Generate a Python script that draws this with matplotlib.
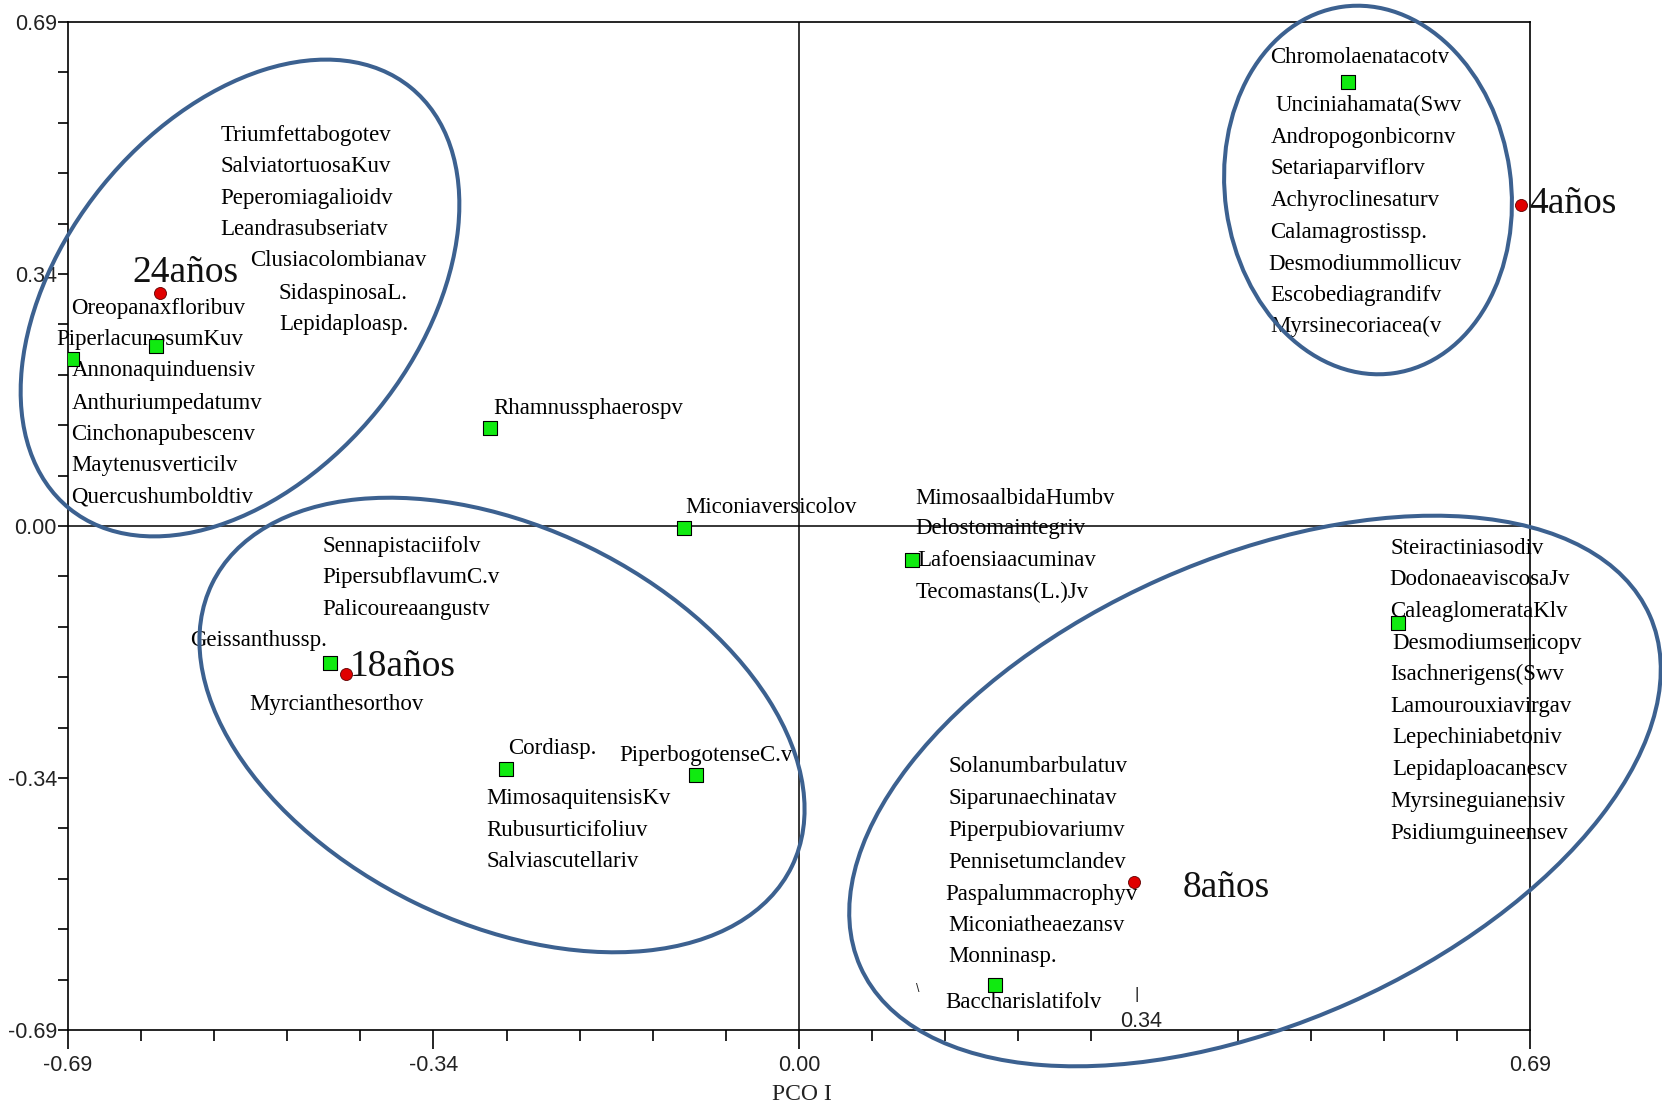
import numpy as np
import matplotlib.pyplot as plt
from matplotlib.patches import Ellipse
from matplotlib.transforms import offset_copy

# sampling plots (red dots) and their age labels
sample_names = ["24años", "18años", "8años", "4años"]
sample_x = [-0.603, -0.428, 0.316, 0.681]
sample_y = [0.319, -0.203, -0.487, 0.440]
sample_lab_x = [-0.629, -0.424, 0.362, 0.689]
sample_lab_y = [0.353, -0.187, -0.489, 0.447]

# species with a visible marker (green squares)
species_x = [0.518, -0.607, -0.686, -0.292, -0.109, 0.107,
             -0.443, -0.277, -0.097, 0.565, 0.185]
species_y = [0.608, 0.247, 0.228, 0.134, -0.003, -0.046,
             -0.187, -0.332, -0.341, -0.133, -0.628]

# species labels as printed on the chart
label_names = [
    "Triumfettabogotev", "SalviatortuosaKuv", "Peperomiagalioidv",
    "Leandrasubseriatv", "Clusiacolombianav", "SidaspinosaL.", "Lepidaploasp.",
    "Oreopanaxfloribuv", "PiperlacunosumKuv", "Annonaquinduensiv",
    "Anthuriumpedatumv", "Cinchonapubescenv", "Maytenusverticilv",
    "Quercushumboldtiv",
    "Rhamnussphaerospv", "Miconiaversicolov",
    "MimosaalbidaHumbv", "Delostomaintegriv", "Lafoensiaacuminav",
    "Tecomastans(L.)Jv",
    "Sennapistaciifolv", "PipersubflavumC.v", "Palicoureaangustv",
    "Geissanthussp.", "Myrcianthesorthov", "Cordiasp.", "PiperbogotenseC.v",
    "MimosaquitensisKv", "Rubusurticifoliuv", "Salviascutellariv",
    "Solanumbarbulatuv", "Siparunaechinatav", "Piperpubiovariumv",
    "Pennisetumclandev", "Paspalummacrophyv", "Miconiatheaezansv",
    "Monninasp.", "Baccharislatifolv",
    "Steiractiniasodiv", "DodonaeaviscosaJv", "CaleaglomerataKlv",
    "Desmodiumsericopv", "Isachnerigens(Swv", "Lamourouxiavirgav",
    "Lepechiniabetoniv", "Lepidaploacanescv", "Myrsineguianensiv",
    "Psidiumguineensev",
    "Chromolaenatacotv", "Unciniahamata(Swv", "Andropogonbicornv",
    "Setariaparviflorv", "Achyroclinesaturv", "Calamagrostissp.",
    "Desmodiummollicuv", "Escobediagrandifv", "Myrsinecoriacea(v",
]
label_x = [
    -0.546, -0.546, -0.546, -0.546, -0.518, -0.491, -0.491,
    -0.687, -0.701, -0.686, -0.686, -0.687, -0.687, -0.687,
    -0.289, -0.107,
    0.110, 0.110, 0.112, 0.110,
    -0.450, -0.450, -0.450, -0.575, -0.519, -0.275, -0.170,
    -0.295, -0.295, -0.295,
    0.141, 0.141, 0.141, 0.141, 0.138, 0.141, 0.141, 0.138,
    0.558, 0.557, 0.558, 0.560, 0.558, 0.558, 0.560, 0.560, 0.558, 0.558,
    0.445, 0.450, 0.445, 0.445, 0.445, 0.445, 0.443, 0.445, 0.445,
]
label_y = [
    0.541, 0.498, 0.454, 0.412, 0.369, 0.324, 0.282,
    0.304, 0.261, 0.218, 0.174, 0.131, 0.089, 0.045,
    0.167, 0.031,
    0.044, 0.002, -0.042, -0.085,
    -0.022, -0.065, -0.109, -0.151, -0.238, -0.299, -0.308,
    -0.367, -0.411, -0.453,
    -0.324, -0.367, -0.411, -0.455, -0.499, -0.541, -0.583, -0.646,
    -0.025, -0.068, -0.112, -0.155, -0.197, -0.241, -0.284, -0.328,
    -0.371, -0.415,
    0.647, 0.581, 0.537, 0.495, 0.452, 0.408, 0.364, 0.322, 0.279,
]

# group outlines: centre (in), width, height (in), angle (deg)
groups = [
    ((2.40, 8.10), 5.42, 3.55, 51),
    ((5.02, 3.83), 6.45, 3.96, -26),
    ((12.55, 3.17), 8.64, 4.64, 24),
    ((13.68, 9.18), 2.86, 3.70, 8),
]

serif = ["Liberation Serif", "DejaVu Serif"]
sans = ["Liberation Sans", "DejaVu Sans"]


def main():
    fig = plt.figure(figsize=(16.62, 11.08), dpi=100)
    ax = fig.add_axes([0.0409, 0.0704, 0.8797, 0.9097])
    ax.set_xlim(-0.69, 0.69)
    ax.set_ylim(-0.69, 0.69)

    ax.axhline(0, color="black", lw=1.1, zorder=1)
    ax.axvline(0, color="black", lw=1.1, zorder=1)
    for s in ax.spines.values():
        s.set_linewidth(1.2)

    step = 0.069
    minor = np.round(np.arange(-0.69, 0.6901, step), 3)
    ax.set_xticks([-0.69, -0.345, 0.0, 0.69])
    ax.set_xticklabels(["-0.69", "-0.34", "0.00", "0.69"])
    ax.set_xticks([m for m in minor if abs(m - 0.345) > 0.01], minor=True)
    ax.set_yticks([-0.69, -0.345, 0.0, 0.345, 0.69])
    ax.set_yticklabels(["-0.69", "-0.34", "0.00", "0.34", "0.69"])
    ax.set_yticks(minor, minor=True)
    ax.tick_params(axis="x", which="major", direction="out", length=14,
                   width=1.2, pad=4)
    ax.tick_params(axis="x", which="minor", direction="out", length=8,
                   width=1.2)
    ax.tick_params(axis="y", which="both", direction="out", length=7,
                   width=1.2, pad=1)
    for lab in ax.get_xticklabels() + ax.get_yticklabels():
        lab.set_family(sans)
        lab.set_fontsize(15.5)
        lab.set_color("#222222")

    for (cx, cy), w, h, ang in groups:
        e = Ellipse((cx, cy), w, h, angle=ang, transform=fig.dpi_scale_trans,
                    fill=False, edgecolor="#3c6190", lw=2.9, zorder=2,
                    clip_on=False)
        fig.add_artist(e)

    # text sits a touch lower than the bbox centre
    tr = offset_copy(ax.transData, fig=fig, x=0, y=-3, units="points")

    for name, x, y in zip(label_names, label_x, label_y):
        ax.text(x, y, name, family=serif, fontsize=16.5, ha="left",
                va="center", color="black", zorder=4, clip_on=False,
                transform=tr)

    ax.scatter(species_x, species_y, marker="s", s=90, c="#10ea10",
               edgecolors="black", linewidths=0.8, zorder=5)
    ax.scatter(sample_x, sample_y, marker="o", s=75, c="#e00000",
               edgecolors="#600000", linewidths=0.6, zorder=6)
    for name, x, y in zip(sample_names, sample_lab_x, sample_lab_y):
        ax.text(x, y, name, family=serif, fontsize=27, ha="left",
                va="center", color="#111111", zorder=6, clip_on=False,
                transform=tr)

    # stray axis label drawn inside the plot in the original
    ax.text(0.323, -0.673, "0.34", family=sans, fontsize=15.5, ha="center",
            va="center", color="#222222", transform=tr)
    ax.text(0.319, -0.642, "|", family=sans, fontsize=12, ha="center",
            va="center", color="#222222")
    ax.text(0.112, -0.634, "\\", family=sans, fontsize=9, ha="center",
            va="center", color="#222222")

    fig.text(0.4825, 0.012, "PCO I", family=serif, fontsize=17,
             ha="center", va="center", color="#222222")

    fig.savefig("out.png", dpi=100)


if __name__ == "__main__":
    main()
